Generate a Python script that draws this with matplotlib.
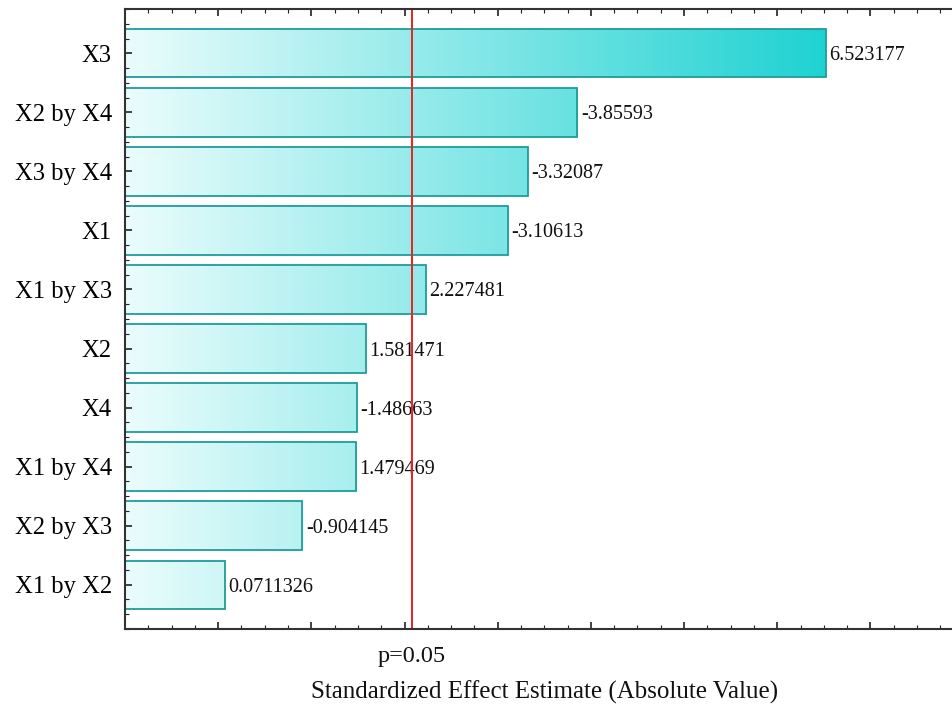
import numpy as np
import matplotlib
matplotlib.use("Agg")
import matplotlib.pyplot as plt
from matplotlib.colors import LinearSegmentedColormap
from matplotlib.ticker import MultipleLocator, NullFormatter
from matplotlib.transforms import blended_transform_factory

# Pareto chart of standardized effects
categories = ["X3", "X2 by X4", "X3 by X4", "X1", "X1 by X3",
              "X2", "X4", "X1 by X4", "X2 by X3", "X1 by X2"]
effects = [6.523177, -3.85593, -3.32087, -3.10613, 2.227481,
           1.581471, -1.48663, 1.479469, -0.904145, 0.0711326]
t_crit = 2.0796          # critical t at p = 0.05
p_label = "p=0.05"
x_title = "Standardized Effect Estimate (Absolute Value)"

x_min, x_max = -1.0, 8.0
serif = ["Liberation Serif", "DejaVu Serif"]

fig = plt.figure(figsize=(9.52, 7.09), dpi=100)
# axes reaches slightly past the right edge of the canvas
ax_left, ax_bottom = 125 / 952, 80 / 709
ax_width = (963.6 - 125) / 952
ax_height = (700 - 80) / 709
ax = fig.add_axes([ax_left, ax_bottom, ax_width, ax_height])

abs_eff = np.abs(effects)
ypos = np.arange(len(categories))
bar_h = 0.82

bars = ax.barh(ypos, abs_eff - x_min, left=x_min, height=bar_h,
               facecolor="none", edgecolor="#1e9c9c", linewidth=1.3, zorder=3)

cmap = LinearSegmentedColormap.from_list("cyan_grad", ["#ebfcfc", "#1fd2d2"])
grad = np.linspace(0, 1, 256).reshape(1, -1)
for b in bars:
    im = ax.imshow(grad, cmap=cmap, aspect="auto", interpolation="bicubic",
                   extent=(x_min, abs_eff.max(), ypos[-1] + 1, ypos[0] - 1),
                   zorder=2)
    im.set_clip_path(b)

for y, v, e in zip(ypos, abs_eff, effects):
    ax.annotate(f"{e:.7g}", xy=(v, y), xytext=(2.5, 0), textcoords="offset points",
                ha="left", va="center_baseline", fontsize=14.5, family=serif,
                color="#111111", zorder=4)

ax.axvline(t_crit, color="#e8231f", linewidth=1.4, zorder=5)

ax.set_xlim(x_min, x_max)
ax.set_ylim(len(categories) - 0.25, -0.75)

ax.xaxis.set_major_locator(MultipleLocator(1))
ax.xaxis.set_minor_locator(MultipleLocator(0.25))
ax.xaxis.set_major_formatter(NullFormatter())
ax.set_yticks(ypos)
ax.set_yticklabels(categories, family=serif, fontsize=17.7)
ax.yaxis.set_minor_locator(MultipleLocator(0.25))
ax.tick_params(axis="both", which="both", direction="in", color="#222222",
               top=True, right=False)
ax.tick_params(axis="both", which="major", length=5, width=1.2)
ax.tick_params(axis="both", which="minor", length=3, width=0.8)
ax.tick_params(axis="y", which="major", pad=9.5)
ax.xaxis.set_zorder(6)
ax.yaxis.set_zorder(6)

for side in ("left", "bottom", "top"):
    ax.spines[side].set_color("#333333")
    ax.spines[side].set_linewidth(1.5)
    ax.spines[side].set_zorder(7)
ax.spines["right"].set_visible(False)

trans = blended_transform_factory(ax.transData, ax.transAxes)
ax.text(t_crit, -0.044, p_label, transform=trans, ha="center", va="center",
        family=serif, fontsize=17.5, color="#111111")
ax.text(0.5, -0.102, x_title, transform=ax.transAxes, ha="center", va="center",
        family=serif, fontsize=18, color="#111111")

fig.savefig("out.png", dpi=100)
